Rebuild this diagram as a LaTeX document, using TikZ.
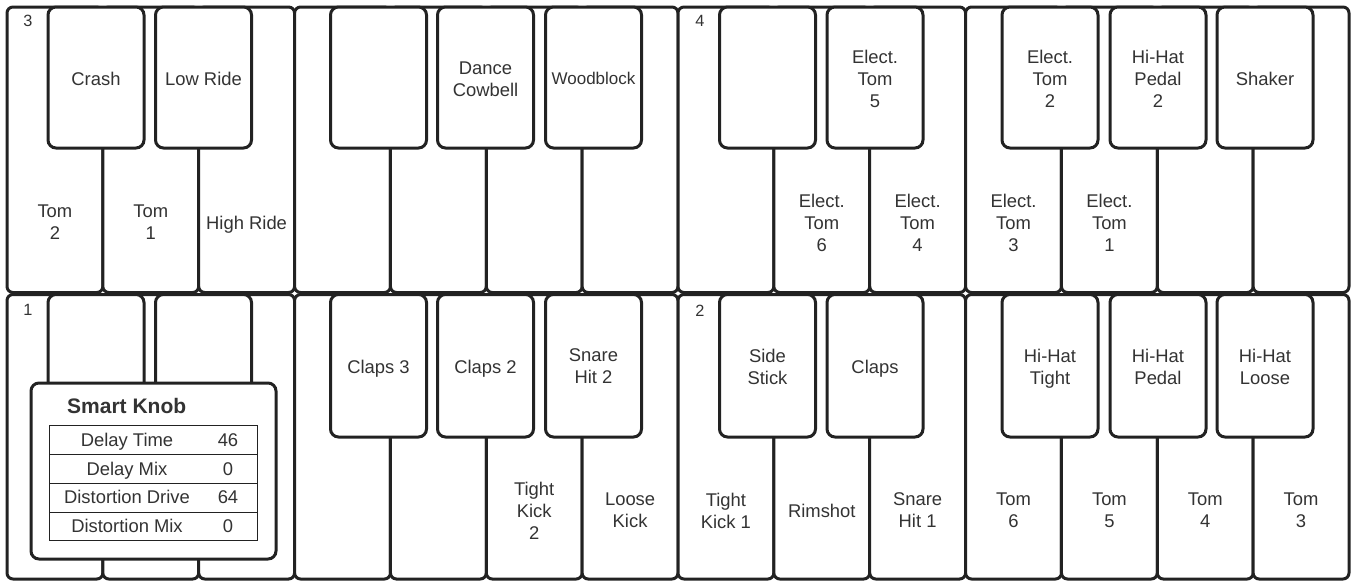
\documentclass[tikz,border=0pt]{standalone}
\usepackage{fontspec}
\setmainfont{Liberation Sans}
\definecolor{linecol}{HTML}{222222}
\definecolor{txtcol}{HTML}{333333}
\begin{document}
\begin{tikzpicture}[x=1pt,y=-1pt,
  keyline/.style={draw=linecol, line width=3pt, fill=white},
  whitekey/.style={keyline, rounded corners=6pt},
  blackkey/.style={keyline, rounded corners=8pt},
  lbl/.style={text=txtcol, font=\fontsize{18.4}{22}\selectfont, align=center, inner sep=0pt, text depth=4pt},
  grp/.style={text=txtcol, font=\fontsize{16.3}{18}\selectfont, inner sep=0pt, anchor=base},
  knobbox/.style={draw=linecol, line width=3pt, fill=white, rounded corners=8pt},
  tab/.style={text=txtcol, font=\fontsize{18.4}{22}\selectfont, inner sep=0pt, anchor=base},
  title/.style={text=txtcol, font=\fontsize{21}{24}\selectfont\bfseries, inner sep=0pt, anchor=base west}
]
\useasboundingbox (0,0) rectangle (1352,581);
% white keys
\foreach \i in {0,...,13}{
  \pgfmathsetmacro{\xa}{7+\i*95.857}
  \pgfmathsetmacro{\xb}{\xa+95.857}
  \draw[whitekey] (\xa,7) rectangle (\xb,292.5);
  \draw[whitekey] (\xa,294.5) rectangle (\xb,579);
}
% black keys
\foreach \c in {96,203.5,378.5,485.5,593.5,767.5,875,1050,1158,1265}{
  \draw[blackkey] (\c-48,7) rectangle (\c+48,148);
  \draw[blackkey] (\c-48,294.5) rectangle (\c+48,437);
}
% group numbers
\node[grp] (g3) at (28,26.7) {3};
\node[grp] (g4) at (700,26.7) {4};
\node[grp] (g1) at (28,315) {1};
\node[grp] (g2) at (700,316) {2};
% top row black key labels
\node[lbl] (tb0) at (96,80.7) {Crash};
\node[lbl] (tb1) at (203.5,80.7) {Low Ride};
\node[lbl] (tb3) at (485.5,80.7) {Dance\\Cowbell};
\node[lbl, font=\fontsize{17}{22}\selectfont] (tb4) at (593.5,80.7) {Woodblock};
\node[lbl] (tb6) at (875,80.7) {Elect.\\Tom\\5};
\node[lbl] (tb7) at (1050,80.7) {Elect.\\Tom\\2};
\node[lbl] (tb8) at (1158,80.7) {Hi-Hat\\Pedal\\2};
\node[lbl] (tb9) at (1265,80.7) {Shaker};
% top row white key labels
\node[lbl] (tw0) at (54.9,224.5) {Tom\\2};
\node[lbl] (tw1) at (150.8,224.5) {Tom\\1};
\node[lbl] (tw2) at (246.6,224.5) {High Ride};
\node[lbl] (tw8) at (821.8,224.5) {Elect.\\Tom\\6};
\node[lbl] (tw9) at (917.6,224.5) {Elect.\\Tom\\4};
\node[lbl] (tw10) at (1013.5,224.5) {Elect.\\Tom\\3};
\node[lbl] (tw11) at (1109.4,224.5) {Elect.\\Tom\\1};
% bottom row black key labels
\node[lbl] (bb2) at (378.5,368.5) {Claps 3};
\node[lbl] (bb3) at (485.5,368.5) {Claps 2};
\node[lbl] (bb4) at (593.5,368.5) {Snare\\Hit 2};
\node[lbl] (bb5) at (767.5,368.5) {Side\\Stick};
\node[lbl] (bb6) at (875,368.5) {Claps};
\node[lbl] (bb7) at (1050,368.5) {Hi-Hat\\Tight};
\node[lbl] (bb8) at (1158,368.5) {Hi-Hat\\Pedal};
\node[lbl] (bb9) at (1265,368.5) {Hi-Hat\\Loose};
% bottom row white key labels
\node[lbl] (bw5) at (534.2,512.5) {Tight\\Kick\\2};
\node[lbl] (bw6) at (630.1,512.5) {Loose\\Kick};
\node[lbl] (bw7) at (725.9,512.5) {Tight\\Kick 1};
\node[lbl] (bw8) at (821.8,512.5) {Rimshot};
\node[lbl] (bw9) at (917.6,512.5) {Snare\\Hit 1};
\node[lbl] (bw10) at (1013.5,512.5) {Tom\\6};
\node[lbl] (bw11) at (1109.4,512.5) {Tom\\5};
\node[lbl] (bw12) at (1205.2,512.5) {Tom\\4};
\node[lbl] (bw13) at (1301.1,512.5) {Tom\\3};
% smart knob panel
\draw[knobbox] (31,383) rectangle (276,559);
\node[title] (sk) at (67,413.3) {Smart Knob};
\draw[draw=linecol, line width=1pt] (49,425.7) rectangle (257,540.7);
\foreach \y in {454.5,483.2,512}{
  \draw[draw=linecol, line width=1pt] (49,\y) -- (257,\y);
}
\node[tab] (r1a) at (127,446.7) {Delay Time};
\node[tab] (r1b) at (228,446.7) {46};
\node[tab] (r2a) at (127,475.2) {Delay Mix};
\node[tab] (r2b) at (228,475.2) {0};
\node[tab] (r3a) at (127,503.8) {Distortion Drive};
\node[tab] (r3b) at (228,503.8) {64};
\node[tab] (r4a) at (127,532.3) {Distortion Mix};
\node[tab] (r4b) at (228,532.3) {0};
\end{tikzpicture}
\end{document}
